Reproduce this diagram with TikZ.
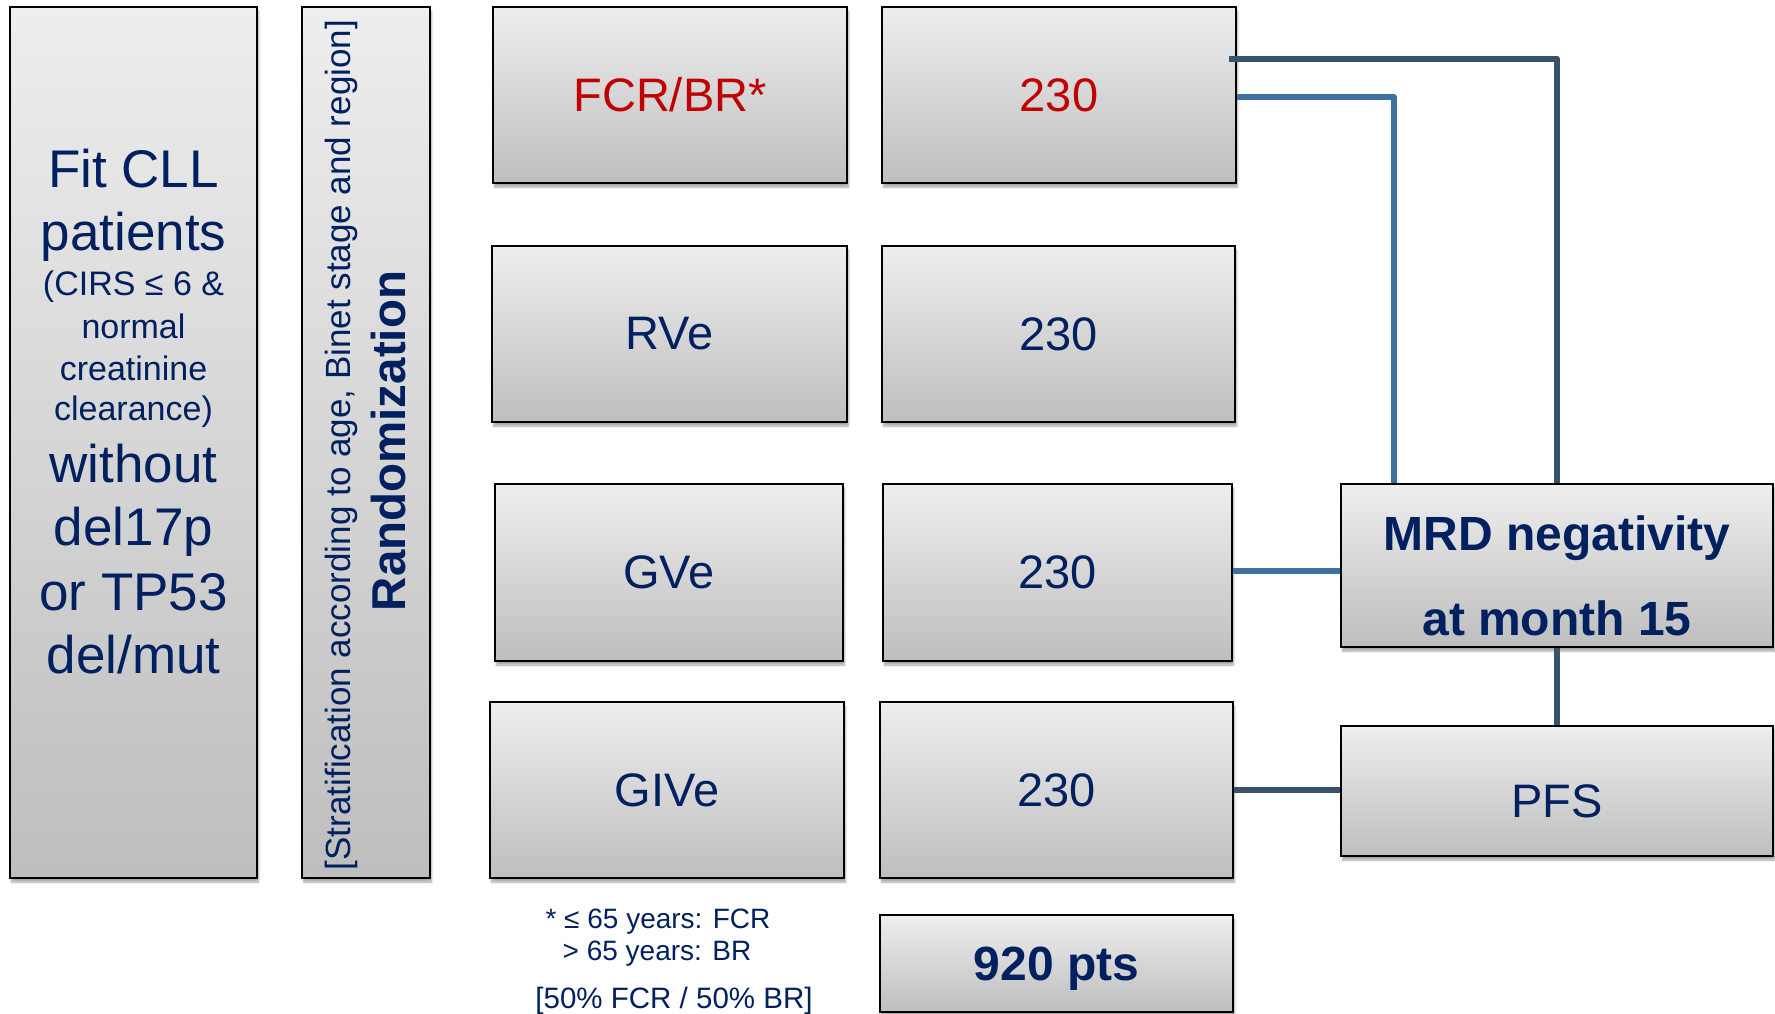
\documentclass[tikz,border=0pt]{standalone}
\usepackage{fontspec}
\setmainfont{Liberation Sans}
\usetikzlibrary{shadows.blur}

\definecolor{navy}{RGB}{0,32,96}
\definecolor{armred}{RGB}{192,0,0}
\definecolor{lndark}{RGB}{56,82,107}
\definecolor{lnlight}{RGB}{62,113,160}
\definecolor{boxtop}{RGB}{238,238,238}
\definecolor{boxbot}{RGB}{190,190,190}

\newcommand\armfs{\fontsize{47}{56}\selectfont}

\begin{document}
\begin{tikzpicture}[x=1pt,y=-1pt,
  box/.style={draw=black,line width=2pt,top color=boxtop,bottom color=boxbot,
    blur shadow={shadow xshift=1.5pt,shadow yshift=-4pt,shadow opacity=35,shadow blur steps=6},
    inner sep=0pt,text=navy,font=\armfs},
  patbig/.style={anchor=base,inner sep=0pt,text=navy,font=\fontsize{53}{63}\selectfont},
  patsmall/.style={anchor=base,inner sep=0pt,text=navy,font=\fontsize{34}{41}\selectfont},
  mrdtxt/.style={anchor=base,inner sep=0pt,text=navy,font=\bfseries\fontsize{48}{57}\selectfont},
  note/.style={anchor=base,inner sep=0pt,text=navy,font=\fontsize{28}{34}\selectfont},
  linkdark/.style={draw=lndark,line width=6pt,line join=round},
  linklight/.style={draw=lnlight,line width=6pt,line join=round}]
  \useasboundingbox (0,0) rectangle (1775,1014);

  % patients
  \node[box,minimum width=247pt,minimum height=871pt] (pat) at (133.5,442.5) {};
  \foreach \yy/\st/\txt [count=\i] in {187/patbig/Fit CLL,250/patbig/patients,
      295/patsmall/(CIRS ≤ 6 \&,338/patsmall/normal,380/patsmall/creatinine,
      420/patsmall/clearance),482/patbig/without,545/patbig/del17p,
      610/patbig/or TP53,673/patbig/{del/mut}}
    \node[\st] (pl\i) at (133.5,\yy) {\txt};

  % randomization
  \node[box,minimum width=128pt,minimum height=871pt] (rnd) at (366,442.5) {};
  \node[rotate=90,anchor=base,inner sep=0pt,text=navy,font=\fontsize{35}{41}\selectfont] (strat) at (350,445)
    {[Stratification according to age, Binet stage and region]};
  \node[rotate=90,anchor=base,inner sep=0pt,text=navy,font=\bfseries\fontsize{47.5}{57}\selectfont] (rtxt) at (405,441)
    {Randomization};

  % arms
  \node[box,minimum width=354pt,minimum height=176pt,text=armred] (a1) at (670,95) {FCR/BR*};
  \node[box,minimum width=355pt,minimum height=176pt] (a2) at (669.5,334) {RVe};
  \node[box,minimum width=348pt,minimum height=177pt] (a3) at (669,572.5) {GVe};
  \node[box,minimum width=354pt,minimum height=176pt] (a4) at (667,790) {GIVe};

  \node[note] (f1) at (658,928) {* ≤ 65 years: FCR};
  \node[note] (f2) at (657,960) {> 65 years: BR};
  \node[note,font=\fontsize{29.5}{35}\selectfont] (f3) at (674,1008) {[50\% FCR / 50\% BR]};

  % patient numbers
  \node[box,minimum width=354pt,minimum height=176pt,text=armred] (n1) at (1059,95) {230};
  \node[box,minimum width=353pt,minimum height=176pt] (n2) at (1058.5,334) {230};
  \node[box,minimum width=349pt,minimum height=177pt] (n3) at (1057.5,572.5) {230};
  \node[box,minimum width=353pt,minimum height=176pt] (n4) at (1056.5,790) {230};
  \node[box,minimum width=353pt,minimum height=97pt,text depth=0pt,
    font=\bfseries\fontsize{48}{57}\selectfont] (tot) at (1056.5,963.5) {920 pts};

  % endpoints
  \node[box,minimum width=432pt,minimum height=163pt] (mrd) at (1557,565.5) {};
  \node[mrdtxt] (m1) at (1557,550) {MRD negativity};
  \node[mrdtxt] (m2) at (1557,635) {at month 15};
  \node[box,minimum width=432pt,minimum height=130pt,text height=52pt,text depth=0pt] (pfs) at (1557,791) {PFS};

  \coordinate (t1) at (1557,59);
  \coordinate (t2) at (1394,97);
  \draw[linkdark] ([xshift=-8pt]n1.east |- t1) -- (t1) -- (mrd.north);
  \draw[linklight] (n1.east |- t2) -- (t2) -- (t2 |- mrd.north);
  \draw[linklight] (n3.east |- 0,571) -- (mrd.west |- 0,571);
  \draw[linkdark] (n4.east) -- (pfs.west |- n4.east);
  \draw[linkdark] (mrd.south) -- (pfs.north);
\end{tikzpicture}
\end{document}
